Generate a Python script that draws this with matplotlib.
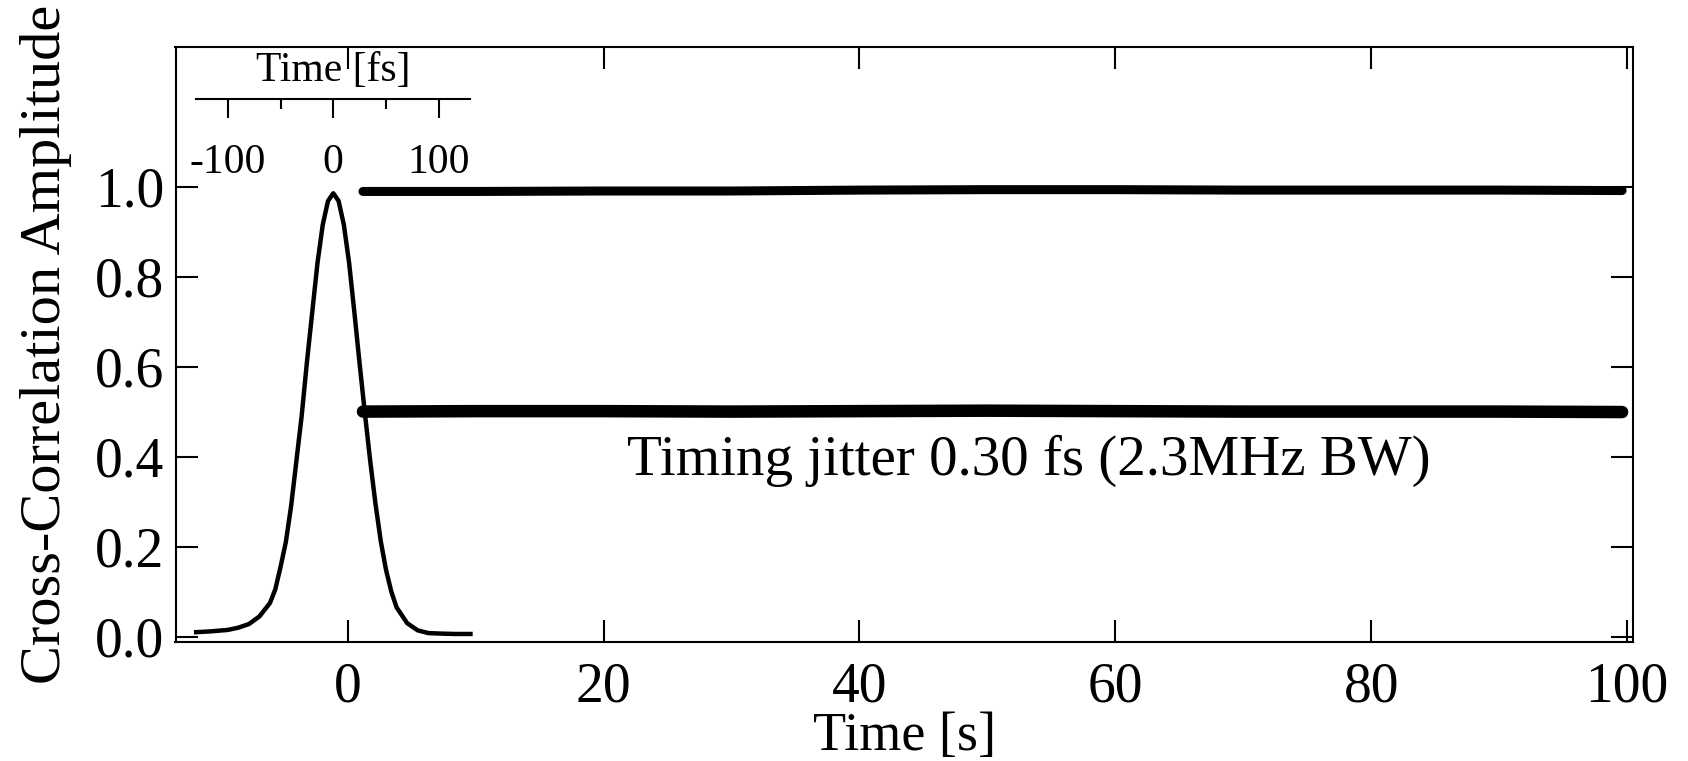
"""Cross-correlation pulse and long-term timing-jitter traces."""
import matplotlib
matplotlib.use("Agg")
import matplotlib.pyplot as plt

plt.rcParams["font.family"] = ["Liberation Serif", "DejaVu Serif"]
plt.rcParams["axes.unicode_minus"] = False

# balanced cross-correlation scan (fs)
pulse_fs = [-130, -115, -100, -90, -80, -70, -60, -55, -50, -45, -40, -35, -30,
            -25, -20, -15, -10, -5, 0, 5, 10, 15, 20, 25, 30, 35, 40, 45, 50,
            55, 60, 70, 80, 90, 100, 115, 130]
pulse_amp = [0.010, 0.012, 0.015, 0.020, 0.028, 0.045, 0.075, 0.105, 0.155,
             0.210, 0.290, 0.390, 0.490, 0.610, 0.720, 0.830, 0.915, 0.968,
             0.985, 0.968, 0.915, 0.830, 0.720, 0.605, 0.495, 0.390, 0.295,
             0.212, 0.148, 0.100, 0.065, 0.030, 0.014, 0.008, 0.007, 0.006,
             0.006]

# long-term recordings (s)
trace_t = [1.2, 10, 20, 30, 40, 50, 60, 70, 80, 90, 99.6]
peak_amp = [0.989, 0.989, 0.990, 0.990, 0.992, 0.993, 0.993, 0.992, 0.992,
            0.992, 0.991]
slope_amp = [0.500, 0.501, 0.501, 0.500, 0.501, 0.502, 0.501, 0.500, 0.500,
             0.500, 0.499]

x_ticks = [0, 20, 40, 60, 80, 100]
y_ticks = [0.0, 0.2, 0.4, 0.6, 0.8, 1.0]
fs_ticks = [-100, 0, 100]
fs_minor = [-50, 50]

W, H = 1688, 761
fig = plt.figure(figsize=(W / 100, H / 100), dpi=100)
rect = [175.5 / W, 1 - 642.3 / H, (1633 - 175.5) / W, (642.3 - 46.5) / H]
ax = fig.add_axes(rect)

ax.plot(trace_t, peak_amp, color="black", linewidth=6.5, solid_capstyle="round")
ax.plot(trace_t, slope_amp, color="black", linewidth=9, solid_capstyle="round")

ax.set_xlim(-13.45, 100.45)
ax.set_ylim(-0.0125, 1.311)
ax.set_xticks(x_ticks)
ax.set_yticks(y_ticks)
ax.set_yticklabels([f"{v:.1f}" for v in y_ticks])
ax.tick_params(direction="in", length=16, width=1.5, labelsize=40,
               top=True, right=True)
ax.tick_params(axis="x", pad=14)
ax.tick_params(axis="y", pad=8)
for s in ax.spines.values():
    s.set_linewidth(1.5)

ax.set_xlabel("Time [s]", fontsize=39)
ax.xaxis.set_label_coords(0.5, -0.116)
ax.set_ylabel("Cross-Correlation Amplitude", fontsize=42)
ax.yaxis.set_label_coords(-0.071, 0.5)

ax.text(53.2, 0.36, "Timing jitter 0.30 fs (2.3MHz BW)", fontsize=41,
        ha="center", va="baseline")

# inset fs scale sharing the amplitude axis
axf = fig.add_axes(rect, sharey=ax)
axf.patch.set_visible(False)
axf.yaxis.set_visible(False)
for name, s in axf.spines.items():
    s.set_visible(name == "bottom")
axf.set_xlim((175.5 - 333.3) / 1.055, (1633 - 333.3) / 1.055)
axf.spines["bottom"].set_position(("data", 1.195))
axf.spines["bottom"].set_bounds(-130, 130)
axf.spines["bottom"].set_linewidth(1.5)
axf.set_xticks(fs_ticks)
axf.set_xticks(fs_minor, minor=True)
axf.tick_params(axis="x", which="major", direction="out", length=14,
                width=1.5, labelsize=30, pad=18)
axf.tick_params(axis="x", which="minor", direction="out", length=7, width=1.5)
axf.text(0, 1.258, "Time [fs]", fontsize=30, ha="center", va="center")

axf.plot(pulse_fs, pulse_amp, color="black", linewidth=3.2)

fig.savefig("out.png", dpi=100)
